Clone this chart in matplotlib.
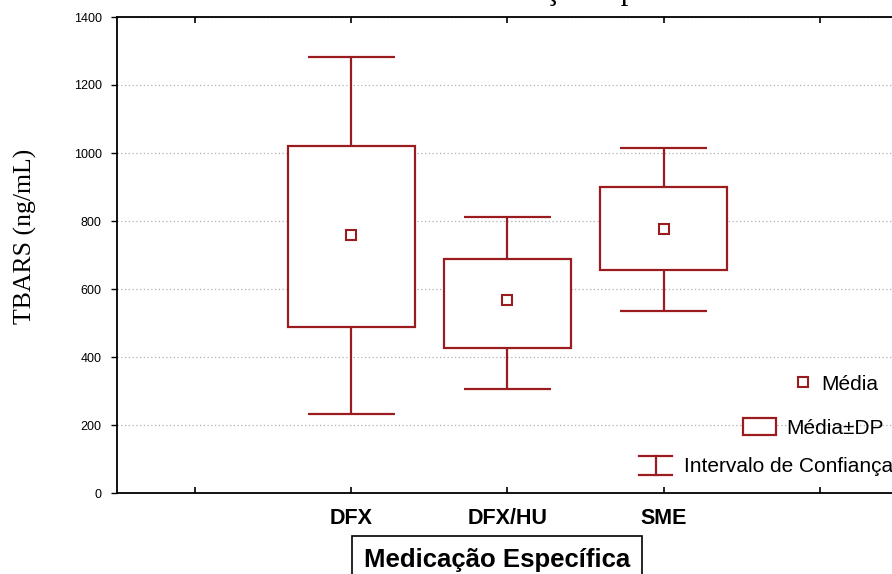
import matplotlib
matplotlib.use("Agg")
import matplotlib.pyplot as plt
from matplotlib.lines import Line2D
from matplotlib.patches import Patch
from matplotlib.legend_handler import HandlerBase

# valores (TBARS ng/mL)
grupos = ["DFX", "DFX/HU", "SME"]
media = [759, 568, 776]
dp_inf = [488, 426, 656]
dp_sup = [1020, 687, 899]
ic_inf = [232, 306, 535]
ic_sup = [1282, 812, 1015]

y_ticks = [0, 200, 400, 600, 800, 1000, 1200, 1400]

VERMELHO = "#9b1c1f"
W, H = 892, 574


class HandlerIBeam(HandlerBase):
    # simbolo "I" para o intervalo de confianca
    def create_artists(self, legend, orig_handle, xdescent, ydescent,
                       width, height, fontsize, trans):
        x0, x1 = -xdescent, -xdescent + width
        y0, y1 = -ydescent, -ydescent + height
        xm = (x0 + x1) / 2
        linhas = [Line2D([x0, x1], [y1, y1]),
                  Line2D([x0, x1], [y0, y0]),
                  Line2D([xm, xm], [y0, y1])]
        for ln in linhas:
            ln.set_color(VERMELHO)
            ln.set_linewidth(1.6)
            ln.set_transform(trans)
        return linhas


def desenhar():
    fig = plt.figure(figsize=(W / 100, H / 100), dpi=100)
    ax = fig.add_axes([117 / W, 81 / H, 781 / W, 476 / H])

    pos = list(range(1, len(grupos) + 1))

    # intervalo de confianca (bigodes)
    ax.vlines(pos, ic_inf, dp_inf, color=VERMELHO, lw=1.6, zorder=3)
    ax.vlines(pos, dp_sup, ic_sup, color=VERMELHO, lw=1.6, zorder=3)
    for p, lo, hi in zip(pos, ic_inf, ic_sup):
        ax.hlines([lo, hi], p - 0.28, p + 0.28, color=VERMELHO, lw=1.6, zorder=3)

    # caixas media +- DP
    alturas = [s - i for s, i in zip(dp_sup, dp_inf)]
    ax.bar(pos, alturas, bottom=dp_inf, width=0.81, color="white",
           edgecolor=VERMELHO, linewidth=1.6, zorder=2)

    # media
    ax.plot(pos, media, linestyle="none", marker="s", markersize=6.5,
            mfc="white", mec=VERMELHO, mew=1.5, zorder=4)

    ax.set_xlim(-0.5, 4.5)
    ax.set_ylim(0, 1400)
    ax.set_xticks([0, 1, 2, 3, 4])
    ax.set_xticklabels([""] + grupos + [""], fontsize=15.5, fontweight="bold",
                       family="Liberation Sans")
    ax.set_yticks(y_ticks)
    ax.set_yticklabels([str(v) for v in y_ticks], fontsize=9,
                       family="Liberation Sans")
    ax.tick_params(axis="x", direction="in", top=True, length=4, width=1.2, pad=11)
    ax.tick_params(axis="y", direction="out", length=4, width=1, pad=7)

    for lado in ["left", "bottom", "top", "right"]:
        ax.spines[lado].set_linewidth(1.3)
        ax.spines[lado].set_color("black")

    ax.yaxis.grid(True, linestyle=(0, (1, 2)), color="#b0b0b0", lw=0.9)
    ax.set_axisbelow(True)

    # titulo: na referencia so aparecem as descendentes (cortado no topo)
    fig.text(454 / W, (H + 0.5) / H, "Medicação específica", ha="left",
             va="baseline", fontsize=22, family="Liberation Serif")

    fig.text(25 / W, (H - 236) / H, "TBARS (ng/mL)", rotation=90, ha="center",
             va="center", fontsize=18.5, family="Liberation Serif")

    fig.text(497 / W, (H - 567) / H, "Medicação Específica", ha="center",
             va="baseline", fontsize=18.5, fontweight="bold",
             family="Liberation Sans",
             bbox=dict(boxstyle="square,pad=0.45", fc="white", ec="black", lw=1.2))

    # legenda, uma linha por vez alinhada a direita
    comum = dict(frameon=False, loc="center right", borderpad=0,
                 borderaxespad=0, bbox_transform=fig.transFigure,
                 prop={"family": "Liberation Sans", "size": 15})

    h1 = Line2D([], [], linestyle="none", marker="s", markersize=6.5,
                mfc="white", mec=VERMELHO, mew=1.5)
    leg1 = ax.legend([h1], ["Média"], bbox_to_anchor=(878 / W, (H - 384) / H),
                     handlelength=0.6, handletextpad=0.55, **comum)
    ax.add_artist(leg1)

    h2 = Patch(facecolor="white", edgecolor=VERMELHO, linewidth=1.6)
    leg2 = ax.legend([h2], ["Média±DP"], bbox_to_anchor=(884 / W, (H - 428) / H),
                     handlelength=1.6, handleheight=0.85, handletextpad=0.5, **comum)
    ax.add_artist(leg2)

    h3 = Line2D([], [])
    ax.legend([h3], ["Intervalo de Confiança"],
              bbox_to_anchor=(893 / W, (H - 466) / H),
              handlelength=1.6, handleheight=1.05, handletextpad=0.55,
              handler_map={h3: HandlerIBeam()}, **comum)

    fig.savefig("out.png", dpi=100)


if __name__ == "__main__":
    desenhar()
